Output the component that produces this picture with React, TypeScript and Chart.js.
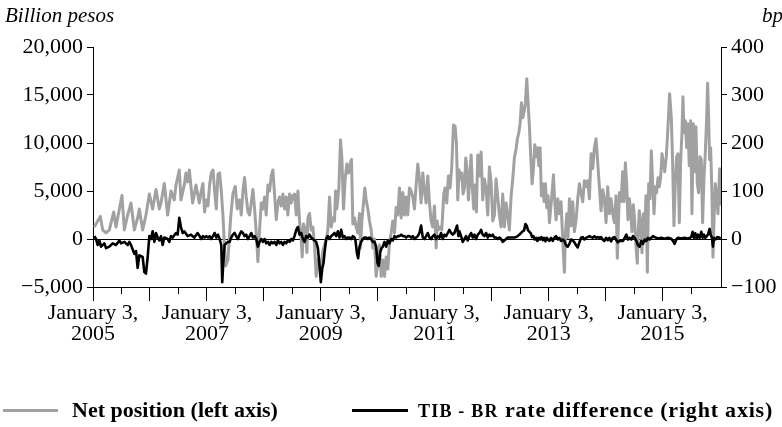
import React, { useEffect, useRef } from 'react';
import { Chart, registerables } from 'chart.js';

Chart.register(...registerables);

// Net position (billion pesos), left axis — decimal year / value
const netYears = [
  2005.024, 2005.082, 2005.129, 2005.170, 2005.229, 2005.287, 2005.363, 2005.404, 2005.463, 2005.509,
  2005.550, 2005.609, 2005.667, 2005.726, 2005.784, 2005.813, 2005.872, 2005.930, 2005.989, 2006.047,
  2006.106, 2006.164, 2006.194, 2006.252, 2006.311, 2006.369, 2006.427, 2006.457, 2006.515, 2006.544,
  2006.603, 2006.632, 2006.661, 2006.691, 2006.749, 2006.808, 2006.866,
  2006.901, 2006.930, 2006.959, 2006.989, 2007.018, 2007.047, 2007.076, 2007.106, 2007.135, 2007.164,
  2007.193, 2007.223, 2007.252, 2007.281, 2007.310, 2007.328, 2007.369, 2007.416, 2007.456, 2007.497,
  2007.533, 2007.573, 2007.603, 2007.632, 2007.661, 2007.690, 2007.720, 2007.749, 2007.778, 2007.807,
  2007.837, 2007.866, 2007.895, 2007.924, 2007.954, 2007.983, 2008.012, 2008.041, 2008.071, 2008.100,
  2008.129, 2008.158, 2008.187, 2008.217, 2008.246, 2008.275, 2008.304, 2008.334, 2008.363, 2008.392,
  2008.421, 2008.451, 2008.480, 2008.509, 2008.538, 2008.568, 2008.597, 2008.626, 2008.655, 2008.673,
  2008.696, 2008.731, 2008.755, 2008.772, 2008.801, 2008.831, 2008.860, 2008.889, 2008.918, 2008.948,
  2008.977, 2009.006, 2009.035, 2009.065, 2009.094, 2009.123, 2009.152, 2009.182, 2009.211, 2009.240,
  2009.258, 2009.281, 2009.316, 2009.345, 2009.369, 2009.398, 2009.427, 2009.456, 2009.486, 2009.515,
  2009.538, 2009.562, 2009.591, 2009.620, 2009.649, 2009.679, 2009.696, 2009.720, 2009.749, 2009.772,
  2009.796, 2009.825, 2009.854, 2009.883, 2009.913, 2009.942, 2009.971, 2010.000, 2010.030, 2010.059,
  2010.088, 2010.117, 2010.146, 2010.176, 2010.205, 2010.234, 2010.263, 2010.293, 2010.322, 2010.351,
  2010.380, 2010.410, 2010.439, 2010.468, 2010.497, 2010.526, 2010.556,
  2010.585, 2010.614, 2010.643, 2010.673, 2010.702, 2010.731, 2010.760, 2010.790, 2010.819, 2010.848,
  2010.877, 2010.907, 2010.936, 2010.965, 2010.994, 2011.024, 2011.041, 2011.064, 2011.100, 2011.123,
  2011.158, 2011.181, 2011.211, 2011.240, 2011.269, 2011.298, 2011.328, 2011.357, 2011.380, 2011.404,
  2011.427, 2011.450, 2011.474, 2011.497, 2011.521, 2011.544, 2011.567, 2011.591, 2011.614, 2011.638,
  2011.661, 2011.684, 2011.708, 2011.731, 2011.755, 2011.784, 2011.813, 2011.842, 2011.871, 2011.901,
  2011.930, 2011.959, 2011.988, 2012.018, 2012.047, 2012.076, 2012.105, 2012.135, 2012.164, 2012.193,
  2012.222, 2012.252, 2012.281, 2012.310, 2012.339, 2012.369, 2012.398, 2012.427,
  2012.451, 2012.475, 2012.498, 2012.522, 2012.545, 2012.568, 2012.592, 2012.615, 2012.638, 2012.662,
  2012.685, 2012.709, 2012.732, 2012.755, 2012.779, 2012.802, 2012.826, 2012.849, 2012.872, 2012.896,
  2012.919, 2012.943, 2012.966, 2012.989, 2013.013, 2013.036, 2013.060, 2013.083, 2013.106, 2013.130,
  2013.159, 2013.188, 2013.217, 2013.247, 2013.276, 2013.293, 2013.317, 2013.340, 2013.364, 2013.393,
  2013.422, 2013.451, 2013.481, 2013.510, 2013.539, 2013.568, 2013.598, 2013.627, 2013.656, 2013.685,
  2013.715, 2013.744, 2013.773, 2013.802, 2013.832, 2013.861, 2013.890, 2013.919, 2013.949, 2013.978,
  2014.007, 2014.036, 2014.065, 2014.095, 2014.124, 2014.153, 2014.182, 2014.205, 2014.241, 2014.270,
  2014.299, 2014.322, 2014.346, 2014.369, 2014.392, 2014.416, 2014.439, 2014.463, 2014.486, 2014.509,
  2014.533, 2014.556, 2014.568, 2014.591, 2014.615, 2014.638, 2014.661, 2014.685, 2014.708, 2014.732,
  2014.755, 2014.778, 2014.802, 2014.825, 2014.849, 2014.872, 2014.895, 2014.919, 2014.942, 2014.965,
  2014.989, 2015.012, 2015.036, 2015.065, 2015.094, 2015.123, 2015.153, 2015.176, 2015.199, 2015.223,
  2015.246, 2015.270, 2015.293, 2015.316, 2015.340, 2015.357, 2015.375, 2015.398, 2015.422, 2015.445,
  2015.468, 2015.492, 2015.515, 2015.539, 2015.562, 2015.585, 2015.609, 2015.632, 2015.656, 2015.679,
  2015.702, 2015.726, 2015.749, 2015.773, 2015.790, 2015.808, 2015.825, 2015.843, 2015.866, 2015.884,
  2015.901, 2015.925, 2015.948, 2015.971, 2016.001, 2016.020,
];
const netValues = [
  1250, 1880, 2350, 940, 630, 940, 2810, 1250, 3130, 4530,
  940, 2500, 3750, 940, 2190, 3130, 940, 2500, 4690, 3130,
  5160, 3130, 3750, 5790, 2500, 5000, 4070, 5630, 7190, 4070,
  5630, 6880, 5940, 7190, 3750, 5630, 3750,
  5000, 5790, 2810, 4070, 3440, 5630, 6880, 7190, 5000, 3130,
  6720, 6880, 5000, 2500, -940, -2810, -2190, 2190, 4690, 5470,
  3130, 4070, 2500, 5000, 6410, 4380, 2810, 2500, 3750, 5160,
  3130, 630, -2350, 940, 3750, 3130, 4380, 2500, 5630, 5000,
  6570, 7190, 4690, 2030, 3750, 4380, 3440, 4690, 3130, 4380,
  2500, 4690, 3750, 4530, 4690, 2500, 5000, 1880, 0, -1880,
  1560, 940, -1410, 2190, 2660, 940, 1250, -630, -3900, -2190,
  -3130, -2500, -1250, -630, 0, 940, 4380, 1250, 2190, 1880,
  5000, 3130, 5320, 10320, 8440, 3130, 6250, 7820, 6880, 7820,
  8290, 1560, 2190, 1250, 630, 2660, -940, 1880, 3750, 5320,
  4070, 3130, 1880, 940, -940, 0, -3900, -2500, -630, -3900,
  -2190, -3900, -1880, -3130, -310, 630, 1880, 630, 3280, 2500,
  5320, 2190, 4850, 2500, 4380, 2500, 5320,
  5000, 4380, 3130, 5630, 7820, 6250, 3750, 6880, 5000, 3750,
  6570, 3750, 1880, 1250, 3440, -940, 1880, 940, 1250, 940,
  4690, 5320, 3750, 6570, 5320, 7500, 11880, 11730, 10010, 4070,
  7190, 6250, 6880, 4690, 5320, 8440, 7190, 4070, 6250, 8760,
  5320, 3130, 5630, 2810, 8760, 6570, 9070, 4070, 6250, 5320,
  2500, 7500, 5940, 1880, 2500, 6250, 4380, 2500, 1250, 4690,
  1250, 3750, 2500, 940, 4380, 6250, 8440, 9380,
  10440, 11070, 12010, 14200, 12630, 13260, 14200, 16700, 14200, 11690,
  8570, 5750, 7320, 9820, 8570, 9510, 7630, 9510, 4500, 5750,
  3880, 5750, 3250, 4500, 1690, 3250, 4820, 6690, 3880, 2000,
  4190, 2630, 3880, -190, -3470, 440, 2630, 130, 4190, 1380,
  3880, 750, 2000, 4190, 5750, 4820, 3880, 6070, 5440, 6070,
  4190, 8880, 7320, 9510, 10440, 7940, 5440, 2940, 5130, 4190,
  1690, 5440, 2630, 4190, 2630, 1690, 4500, -2000, 4820, 3880,
  7000, 3880, 7940, 5750, 2000, 4190, 2940, 750, 3560, 2000,
  -810, -2530, 130, 2940, 1380, -1440, 2630, 130, 4500, -3470,
  5750, 4190, 9190, 5750, 2630, 5440, 4820, 6380, 5440, 6380,
  8880, 7940, 7000, 8570, 11690, 15130, 12630, 7940, 1380, 5750,
  8570, 8880, 1690, 7940, 11070, 14820, 11070, 12320, 9510, 12010,
  7630, 12320, 2630, 12010, 7000, 11690, 5750, 4820, 8570, 8260,
  1690, 6380, 8880, 12630, 16230, 12630, 8260, 9510, 4820, -1900,
  1690, 5750, 4500, 2630, 7320, 3500,
];

// TIB - BR rate difference (bp), right axis — decimal year / value
const rateYears = [
  2005.024, 2005.053, 2005.082, 2005.112, 2005.141, 2005.199, 2005.229, 2005.287, 2005.346, 2005.404,
  2005.463, 2005.492, 2005.550, 2005.609, 2005.638, 2005.667, 2005.726, 2005.755, 2005.784, 2005.813,
  2005.872, 2005.901, 2005.930, 2005.960, 2005.989, 2006.018, 2006.047, 2006.077, 2006.106, 2006.135,
  2006.164, 2006.194, 2006.223, 2006.252, 2006.311, 2006.340, 2006.369, 2006.398, 2006.457, 2006.486,
  2006.515, 2006.544, 2006.574, 2006.603, 2006.661, 2006.720, 2006.778, 2006.837,
  2006.872, 2006.901, 2006.930, 2006.959, 2006.989, 2007.018, 2007.047, 2007.076, 2007.106, 2007.135,
  2007.164, 2007.193, 2007.223, 2007.252, 2007.269, 2007.287, 2007.310, 2007.339, 2007.369, 2007.398,
  2007.427, 2007.456, 2007.486, 2007.515, 2007.544, 2007.573, 2007.603, 2007.632, 2007.661, 2007.690,
  2007.720, 2007.749, 2007.778, 2007.807, 2007.837, 2007.866, 2007.895, 2007.924, 2007.954, 2007.983,
  2008.012, 2008.041, 2008.071, 2008.100, 2008.129, 2008.158, 2008.187, 2008.217, 2008.246, 2008.275,
  2008.304, 2008.334, 2008.363, 2008.392, 2008.421, 2008.451, 2008.480, 2008.509, 2008.538, 2008.568,
  2008.597, 2008.626, 2008.655, 2008.685, 2008.714,
  2008.743, 2008.772, 2008.801, 2008.831, 2008.860, 2008.889, 2008.918, 2008.948, 2008.977, 2009.000,
  2009.024, 2009.047, 2009.065, 2009.094, 2009.123, 2009.152, 2009.182, 2009.211, 2009.240, 2009.269,
  2009.298, 2009.328, 2009.357, 2009.386, 2009.415, 2009.445, 2009.474, 2009.503, 2009.532, 2009.562,
  2009.591, 2009.608, 2009.632, 2009.655, 2009.679, 2009.708, 2009.737, 2009.766, 2009.796, 2009.825,
  2009.854, 2009.883, 2009.913, 2009.942, 2009.971, 2009.994, 2010.018, 2010.041, 2010.065, 2010.088,
  2010.117, 2010.146, 2010.176, 2010.205, 2010.234, 2010.263, 2010.293, 2010.322, 2010.351, 2010.380,
  2010.410, 2010.439, 2010.468, 2010.497, 2010.526, 2010.556,
  2010.585, 2010.614, 2010.643, 2010.673, 2010.702, 2010.731, 2010.760, 2010.790, 2010.819, 2010.848,
  2010.877, 2010.907, 2010.936, 2010.965, 2010.994, 2011.024, 2011.053, 2011.082, 2011.111, 2011.140,
  2011.170, 2011.199, 2011.228, 2011.257, 2011.287, 2011.316, 2011.345, 2011.374, 2011.392, 2011.415,
  2011.433, 2011.462, 2011.491, 2011.521, 2011.550, 2011.579, 2011.608, 2011.638, 2011.667, 2011.696,
  2011.725, 2011.755, 2011.784, 2011.813, 2011.842, 2011.871, 2011.901, 2011.930, 2011.959, 2011.988,
  2012.018, 2012.047, 2012.076, 2012.105, 2012.135, 2012.164, 2012.193, 2012.222, 2012.252, 2012.281,
  2012.339, 2012.398,
  2012.428, 2012.486, 2012.533, 2012.568, 2012.592, 2012.615, 2012.638, 2012.662, 2012.685, 2012.709,
  2012.732, 2012.755, 2012.779, 2012.802, 2012.826, 2012.849, 2012.872, 2012.896, 2012.919, 2012.943,
  2012.966, 2012.989, 2013.013, 2013.042, 2013.071, 2013.100, 2013.130, 2013.159, 2013.188, 2013.217,
  2013.247, 2013.276, 2013.305, 2013.334, 2013.364, 2013.393, 2013.422, 2013.451, 2013.481, 2013.510,
  2013.539, 2013.568, 2013.598, 2013.627, 2013.656, 2013.685, 2013.715, 2013.744, 2013.773, 2013.802,
  2013.832, 2013.861, 2013.890, 2013.919, 2013.949, 2013.978, 2014.007, 2014.036, 2014.065, 2014.095,
  2014.124, 2014.153, 2014.182, 2014.212, 2014.241,
  2014.305, 2014.334, 2014.363, 2014.392, 2014.422, 2014.451, 2014.480, 2014.509, 2014.539, 2014.568,
  2014.597, 2014.626, 2014.656, 2014.685, 2014.714, 2014.743, 2014.772, 2014.802, 2014.831, 2014.860,
  2014.919, 2014.977, 2015.036, 2015.094, 2015.153, 2015.182, 2015.211, 2015.240, 2015.270, 2015.328,
  2015.387, 2015.445, 2015.503, 2015.527, 2015.550, 2015.574, 2015.597, 2015.620, 2015.650, 2015.679,
  2015.702, 2015.726, 2015.749, 2015.796, 2015.825, 2015.843, 2015.866, 2015.884, 2015.901, 2015.925,
  2015.960, 2016.001, 2016.020,
];
const rateValues = [
  6, 0, -12.5, -3, -16, -9, -19, -16, -9, -12.5,
  -3, -9, -6, -12.5, -6, -12.5, -31, -25, -60, -34,
  -37.5, -69, -72, -37.5, 6, 0, 16, -6, 12.5, 3,
  -3, 6, -12.5, 3, 0, -6, 6, 3, 12.5, 9,
  44, 25, 12.5, 16, 6, 9, 3, 12.5,
  6, 0, 6, 3, 6, 3, 6, 0, 6, 12.5,
  3, 9, 0, -12.5, -90, -50, -12.5, -9, -6, -6,
  3, 9, 12.5, 6, 0, 9, 16, 12.5, 6, 9,
  0, 6, 12.5, 3, 6, 0, -16, -6, 0, -6,
  0, -9, -6, -12.5, -6, -9, -6, -12.5, -3, -9,
  -6, -12.5, -6, -9, -3, -6, 0, -3, 6, 19,
  25, 9, 12.5, 0, -6,
  6, 3, 9, 3, 0, -3, -6, -19, -56, -90,
  -62, -50, -28, 0, 6, 0, 6, 9, 12.5, 6,
  16, 3, 19, 3, 6, 0, 3, 3, 0, 6,
  3, -3, -28, -40, -16, -6, 0, 3, 3, 0,
  3, 0, -6, -6, -16, -50, -56, -28, -19, -16,
  -6, -16, -3, -9, 0, -3, 6, 3, 6, 6,
  9, 6, 6, 3, 6, 6,
  3, 6, 0, 3, 6, 12.5, 28, 3, 0, 6,
  12.5, 3, 0, 6, 9, 0, 6, 3, 12.5, 0,
  9, 6, 12.5, 19, 12.5, 9, 12.5, 22, 28, 6,
  16, 6, -6, 0, 6, -3, 6, 12.5, 3, 9,
  0, 9, 12.5, 19, 9, 6, 12.5, 3, 9, 6,
  9, 3, 3, 0, 3, 0, -6, -3, 0, 3,
  3, 3,
  4, 9, 15, 18, 31, 27.5, 18, 15, 12, 4,
  6, -1, 2.5, -4, 2.5, -1, 4, -2.5, 2.5, -5,
  2.5, -1, -4, 2.5, -4, 2.5, 6, -1, 2.5, -4,
  -1, -4, -13, -16, -10, -1, -2.5, -7, -13, -17.5,
  -7, 2.5, 4, -1, 2.5, 4, 6, 4, 2.5, 6,
  2.5, 4, 2.5, 4, -1, -4, 2.5, -2.5, 2.5, -5,
  2.5, 4, -1, -7, -4,
  -4, 2.5, 9, -1, 2.5, -1, 6, 2.5, -4, -13,
  -16, -4, -10, -1, -4, 2.5, -1, 2.5, 6, 4,
  1, 2.5, 0.5, 2.5, 0.5, -4, -10, -1, 2.5, 1,
  2.5, 0.5, 4, 15, 2.5, 12, 0.5, 9, 2.5, 15,
  2.5, 9, 2.5, 9, 21, 9, 2.5, -16, 2.5, -1,
  4, 2.5, 1,
];

const leftTicks = [-5000, 0, 5000, 10000, 15000, 20000];
const rightTicks = [-100, -50, 0, 50, 100, 150, 200, 250, 300, 350, 400];
const yearTicks = [2005, 2006, 2007, 2008, 2009, 2010, 2011, 2012, 2013, 2014, 2015];
const halfYearTicks = [2005.5, 2006.5, 2007.5, 2008.5, 2009.5, 2010.5, 2011.5, 2012.5, 2013.5, 2014.5, 2015.5];
const labelYears = [2005, 2007, 2009, 2011, 2013, 2015];
const tickDateText = 'January 3,';

const W = 782;
const H = 427;
const PLOT_TOP = 47;
const PLOT_BOTTOM = 287;
const FONT = '"Liberation Serif", "Times New Roman", serif';

const fmtNum = (v: number) => {
  const s = Math.abs(v).toLocaleString('en-US');
  return v < 0 ? '\u2212' + s : s;
};

const minorTickPlugin = {
  id: 'minorTicks',
  afterDraw(chart: any) {
    const xs = chart.scales.x;
    const ctx = chart.ctx;
    ctx.save();
    ctx.strokeStyle = '#000';
    ctx.lineWidth = 1;
    for (const v of halfYearTicks) {
      const px = Math.round(xs.getPixelForValue(v)) + 0.5;
      ctx.beginPath();
      ctx.moveTo(px, xs.top);
      ctx.lineTo(px, xs.top + 7);
      ctx.stroke();
    }
    ctx.restore();
  },
};

export default function App() {
  const ref = useRef<HTMLCanvasElement | null>(null);

  useEffect(() => {
    document.body.style.margin = '0';
    const canvas = ref.current;
    if (!canvas) return;
    const tickFont = { family: FONT, size: 22 };
    const chart = new Chart(canvas, {
      type: 'line',
      data: {
        datasets: [
          {
            label: 'TIB - BR rate difference (right axis)',
            data: rateYears.map((x, i) => ({ x, y: rateValues[i] })),
            borderColor: '#000000',
            borderWidth: 2.6,
            pointRadius: 0,
            tension: 0,
            borderJoinStyle: 'round',
            yAxisID: 'y1',
            order: 0,
          },
          {
            label: 'Net position (left axis)',
            data: netYears.map((x, i) => ({ x, y: netValues[i] })),
            borderColor: '#a1a1a1',
            borderWidth: 3,
            pointRadius: 0,
            tension: 0,
            borderJoinStyle: 'round',
            yAxisID: 'y',
            order: 1,
          },
        ],
      },
      options: {
        responsive: false,
        animation: false,
        events: [],
        layout: { padding: { top: PLOT_TOP, left: 0, right: 0, bottom: 0 } },
        plugins: { legend: { display: false }, tooltip: { enabled: false }, title: { display: false } },
        scales: {
          x: {
            type: 'linear',
            min: 2005,
            max: 2016.025,
            afterBuildTicks: (s: any) => {
              s.ticks = yearTicks.map((v) => ({ value: v }));
            },
            afterFit: (s: any) => {
              s.height = H - PLOT_BOTTOM;
            },
            ticks: {
              autoSkip: false,
              maxRotation: 0,
              minRotation: 0,
              padding: 2,
              color: '#000',
              font: { family: FONT, size: 22, lineHeight: 0.95 },
              callback: (v: any) => (labelYears.includes(Number(v)) ? [tickDateText, String(v)] : ''),
            },
            grid: { drawOnChartArea: false, tickColor: '#000', tickLength: 14, lineWidth: 1 },
            border: { color: '#000', width: 1 },
          },
          y: {
            type: 'linear',
            position: 'left',
            min: -5000,
            max: 20000,
            afterBuildTicks: (s: any) => {
              s.ticks = leftTicks.map((v) => ({ value: v }));
            },
            afterFit: (s: any) => {
              s.width = 93;
            },
            ticks: { color: '#000', font: tickFont, padding: 4, callback: (v: any) => fmtNum(Number(v)) },
            grid: {
              color: (c: any) => (c.tick && c.tick.value === 0 ? '#000' : 'rgba(0,0,0,0)'),
              tickColor: '#000',
              tickLength: 6,
              lineWidth: 1,
            },
            border: { color: '#000', width: 1 },
          },
          y1: {
            type: 'linear',
            position: 'right',
            min: -100,
            max: 400,
            afterBuildTicks: (s: any) => {
              s.ticks = rightTicks.map((v) => ({ value: v }));
            },
            afterFit: (s: any) => {
              s.width = 61;
            },
            ticks: { color: '#000', font: tickFont, padding: 4, callback: (v: any) => fmtNum(Number(v)) },
            grid: { drawOnChartArea: false, tickColor: '#000', tickLength: 6, lineWidth: 1 },
            border: { color: '#000', width: 1 },
          },
        },
      } as any,
      plugins: [minorTickPlugin],
    });
    return () => chart.destroy();
  }, []);

  const italic: React.CSSProperties = {
    position: 'absolute',
    fontFamily: FONT,
    fontStyle: 'italic',
    fontSize: 21,
    lineHeight: '24px',
    color: '#000',
    whiteSpace: 'nowrap',
  };
  const legendText: React.CSSProperties = {
    position: 'absolute',
    fontFamily: FONT,
    fontWeight: 'bold',
    fontSize: 22,
    lineHeight: '24px',
    color: '#000',
    whiteSpace: 'nowrap',
  };

  return (
    <div style={{ position: 'relative', width: W, height: H, background: '#fff', overflow: 'hidden' }}>
      <canvas ref={ref} width={W} height={H} style={{ display: 'block', width: W, height: H }} />
      <div style={{ ...italic, left: 5, top: 3 }}>Billion pesos</div>
      <div style={{ ...italic, left: 762, top: 3 }}>bp</div>
      <div style={{ position: 'absolute', left: 3, top: 409, width: 55, height: 3, background: '#a1a1a1' }} />
      <div style={{ ...legendText, left: 72, top: 398 }}>Net position (left axis)</div>
      <div style={{ position: 'absolute', left: 352, top: 409, width: 56, height: 3, background: '#000' }} />
      <div style={{ ...legendText, left: 418, top: 398 }}>
        <span style={{ fontSize: 18, letterSpacing: 1.2 }}>TIB - BR</span>
        <span style={{ letterSpacing: 0.8 }}> rate difference (right axis)</span>
      </div>
    </div>
  );
}
